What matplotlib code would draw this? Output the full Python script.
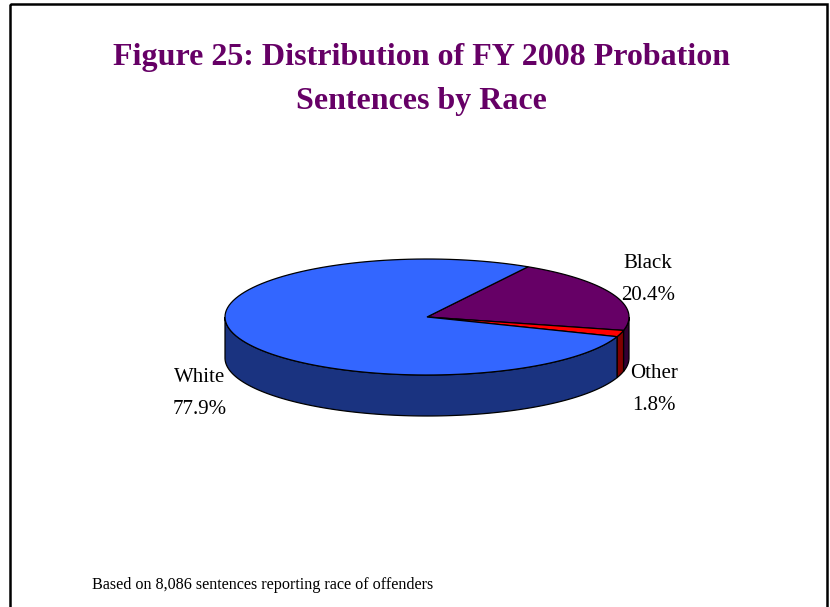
import numpy as np
import matplotlib.pyplot as plt
from matplotlib.patches import Polygon, Rectangle

# data
races = ["Black", "Other", "White"]
shares = [20.4, 1.8, 77.9]
top_colors = ["#660066", "#FF0000", "#3366FF"]
side_colors = ["#330033", "#800000", "#1A3380"]

title_lines = ["Figure 25: Distribution of FY 2008 Probation",
               "Sentences by Race"]
note = "Based on 8,086 sentences reporting race of offenders"

# pie geometry in pixel units
cx, cy = 427, 317
rx, ry = 202, 58
depth = 41
start = 60.0  # degrees, slices go clockwise

plt.rcParams["font.family"] = ["Liberation Serif", "DejaVu Serif"]

fig = plt.figure(figsize=(8.3, 6.07), dpi=100)
ax = fig.add_axes([0, 0, 1, 1])
ax.set_xlim(0, 830)
ax.set_ylim(607, 0)
ax.axis("off")


def arc(t0, t1, n=120):
    t = np.radians(np.linspace(t0, t1, n))
    return np.column_stack([cx + rx * np.cos(t), cy - ry * np.sin(t)])


total = sum(shares)
bounds = []
a = start
for s in shares:
    b = a - 360 * s / total
    bounds.append((a, b))
    a = b

# side walls (front half only: angles between -180 and 0)
for (a0, a1), col in zip(bounds, side_colors):
    for off in (0, -360):
        lo = max(min(a0, a1) + off, -180)
        hi = min(max(a0, a1) + off, 0)
        if hi > lo:
            top = arc(hi, lo)
            bot = top[::-1] + [0, depth]
            ax.add_patch(Polygon(np.vstack([top, bot]), closed=True,
                                 facecolor=col, edgecolor="black", lw=0.9))

# top faces
for (a0, a1), col in zip(bounds, top_colors):
    pts = np.vstack([[cx, cy], arc(a0, a1)])
    ax.add_patch(Polygon(pts, closed=True, facecolor=col,
                         edgecolor="black", lw=0.9))

for y, line in zip([57, 101], title_lines):
    ax.text(421, y, line, ha="center", va="center", fontsize=23,
            fontweight="bold", color="#660066")

# labels: name on one line, percent below
label_pos = [(648, 263, 295), (654, 373, 405), (200, 378, 410)]
for (x, y1, y2), r, s in zip(label_pos, races, shares):
    ax.text(x, y1, r, fontsize=15, ha="center", va="center")
    ax.text(x, y2, f"{s}%", fontsize=15, ha="center", va="center")

ax.text(92, 585, note, fontsize=11.6, ha="left", va="center")

# frame
ax.add_patch(Rectangle((10, 4), 817, 640, fill=False, edgecolor="black",
                       lw=1.8))

fig.savefig("out.png", dpi=100)
